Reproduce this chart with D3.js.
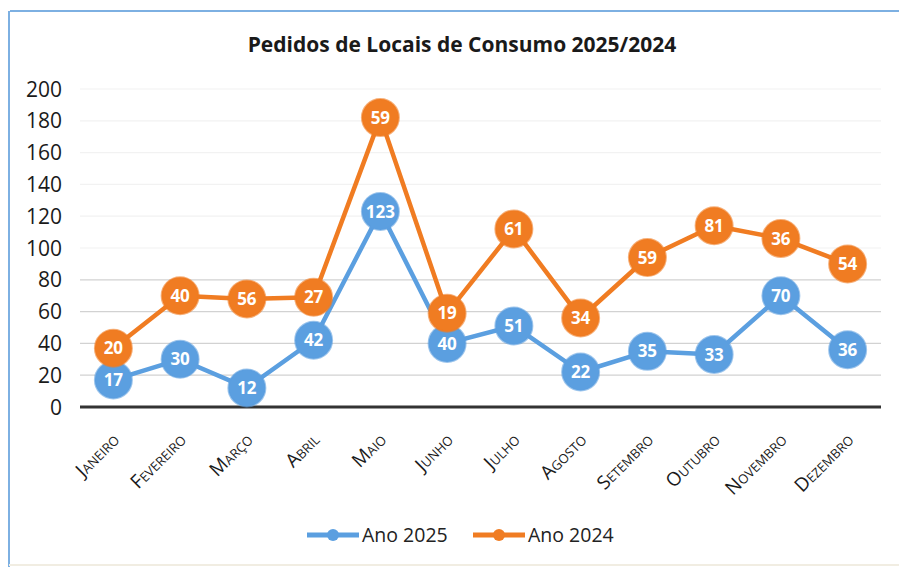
<!DOCTYPE html>
<html>
<head>
<meta charset="utf-8">
<script src="https://cdn.jsdelivr.net/npm/d3@7/dist/d3.min.js"></script>
<style>
  html, body { margin: 0; padding: 0; background: #fff; }
  svg { display: block; }
</style>
</head>
<body>
<svg id="chart" width="899" height="567"></svg>
<script>
const months = ["Janeiro","Fevereiro","Março","Abril","Maio","Junho","Julho","Agosto","Setembro","Outubro","Novembro","Dezembro"];
const ano2025 = [17,30,12,42,123,40,51,22,35,33,70,36];
const ano2024 = [20,40,56,27,59,19,61,34,59,81,36,54];
const yTicks = [0,20,40,60,80,100,120,140,160,180,200];
const title = "Pedidos de Locais de Consumo 2025/2024";
const seriesNames = ["Ano 2025","Ano 2024"];

const blue = "#5b9fe0";
const orange = "#f07c22";
const font = "'Open Sans', 'Noto Sans', sans-serif";

const svg = d3.select("#chart");

// chart border (scan frame)
svg.append("line").attr("x1",10).attr("y1",11).attr("x2",899).attr("y2",11)
  .attr("stroke","#7db0e2").attr("stroke-width",2);
svg.append("line").attr("x1",9).attr("y1",11).attr("x2",9).attr("y2",567)
  .attr("stroke","#7db0e2").attr("stroke-width",2);
svg.append("line").attr("x1",9).attr("y1",565).attr("x2",899).attr("y2",565)
  .attr("stroke","#f1ede2").attr("stroke-width",2);

const x = d3.scaleBand().domain(months).range([80, 881]);
const y = d3.scaleLinear().domain([0, 200]).range([407, 89]);

// title
svg.append("text").attr("x", 462).attr("y", 52).attr("text-anchor","middle")
  .attr("font-family", font).attr("font-weight","bold").attr("font-size", 21)
  .attr("fill","#1a1a1a").text(title);

// gridlines
svg.append("g").selectAll("line").data(yTicks.filter(d => d > 0)).join("line")
  .attr("x1", 80).attr("x2", 881)
  .attr("y1", d => y(d)).attr("y2", d => y(d))
  .attr("stroke", d => d <= 80 ? "#d2d2d2" : "#f2f2f2").attr("stroke-width", 1.2);

// y axis labels
const yAxis = d3.axisLeft(y).tickValues(yTicks).tickSize(0).tickPadding(0);
const gy = svg.append("g").attr("transform","translate(62,0)").call(yAxis);
gy.select(".domain").remove();
gy.selectAll("text").attr("font-family", font).attr("font-size", 21)
  .attr("fill","#1a1a1a").attr("dy","0.34em");

// x axis baseline
svg.append("line").attr("x1", 80).attr("x2", 881).attr("y1", y(0)).attr("y2", y(0))
  .attr("stroke","#333").attr("stroke-width",3);

// x labels
const xAxis = d3.axisBottom(x).tickSize(0).tickPadding(0);
const gx = svg.append("g").attr("transform", `translate(0,${y(0)})`).call(xAxis);
gx.select(".domain").remove();
gx.selectAll("text")
  .attr("font-family", font).attr("font-size", 19).attr("fill","#1a1a1a")
  .style("font-variant","small-caps")
  .attr("text-anchor","end").attr("dy", 0).attr("y", 0)
  .attr("transform","translate(7,34) rotate(-45)");

// stacked values
const stack2025 = ano2025.map(v => v);
const stack2024 = ano2024.map((v, i) => v + ano2025[i]);

const line = d3.line().x((d, i) => x(months[i]) + x.bandwidth()/2).y(d => y(d));

svg.append("path").datum(stack2025).attr("d", line).attr("fill","none")
  .attr("stroke", blue).attr("stroke-width", 4.5).attr("stroke-linejoin","round");
svg.append("path").datum(stack2024).attr("d", line).attr("fill","none")
  .attr("stroke", orange).attr("stroke-width", 4.5).attr("stroke-linejoin","round");

function markers(vals, labels, color) {
  const g = svg.append("g");
  g.selectAll("circle").data(vals).join("circle")
    .attr("cx", (d, i) => x(months[i]) + x.bandwidth()/2)
    .attr("cy", d => y(d)).attr("r", 18.5)
    .attr("fill", color).attr("stroke", color).attr("stroke-opacity",0.6).attr("stroke-width", 2);
  g.selectAll("text").data(vals).join("text")
    .attr("x", (d, i) => x(months[i]) + x.bandwidth()/2)
    .attr("y", d => y(d)).attr("dy","0.36em").attr("text-anchor","middle")
    .attr("font-family", font).attr("font-weight","bold").attr("font-size", 17)
    .attr("fill","#fff").text((d, i) => labels[i]);
}
markers(stack2025, ano2025, blue);
markers(stack2024, ano2024, orange);

// legend
const legend = [
  {name: seriesNames[0], color: blue, x: 307},
  {name: seriesNames[1], color: orange, x: 473}
];
const lg = svg.append("g");
legend.forEach(l => {
  lg.append("line").attr("x1", l.x).attr("x2", l.x + 52).attr("y1", 535).attr("y2", 535)
    .attr("stroke", l.color).attr("stroke-width", 5);
  lg.append("circle").attr("cx", l.x + 26).attr("cy", 535).attr("r", 6).attr("fill", l.color);
  lg.append("text").attr("x", l.x + 55).attr("y", 535).attr("dy","0.36em")
    .attr("font-family", font).attr("font-size", 19.5).attr("fill","#222").text(l.name);
});
</script>
</body>
</html>
